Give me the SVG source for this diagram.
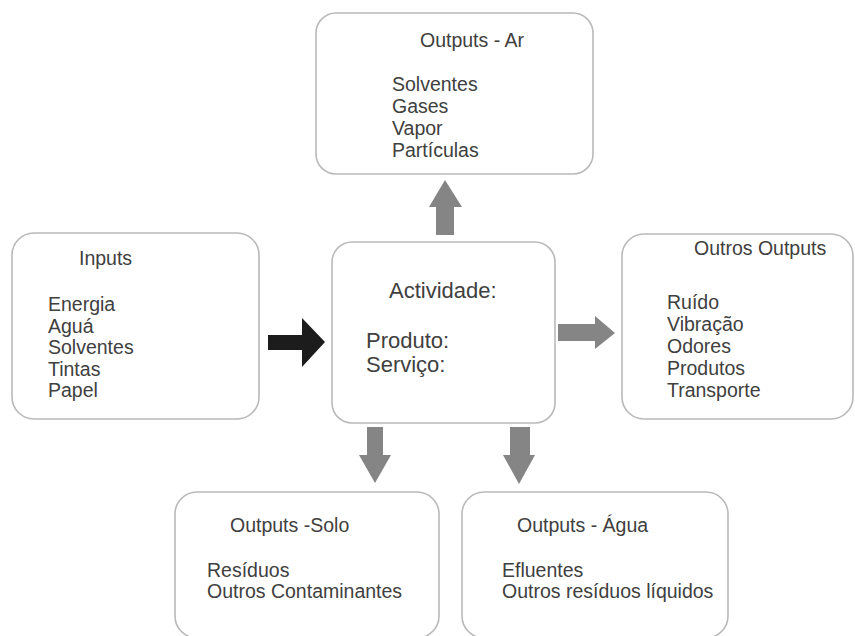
<svg xmlns="http://www.w3.org/2000/svg" width="855" height="636" viewBox="0 0 855 636">
  <style>
    .box { fill: #ffffff; stroke: #b9b9b9; stroke-width: 1.6; }
    .t { font-family: "Liberation Sans", Arial, sans-serif; font-size: 19.5px; fill: #404040; }
    .tc { font-family: "Liberation Sans", Arial, sans-serif; font-size: 22px; fill: #404040; }
    .gray { fill: #858585; }
    .dark { fill: #1c1c1c; }
  </style>
  <rect width="855" height="636" fill="#ffffff"/>

  <g id="outputs-ar">
    <rect class="box" x="316" y="13" width="277" height="161" rx="20"/>
    <text class="t" x="420" y="47">Outputs - Ar</text>
    <text class="t" x="392" y="91">Solventes</text>
    <text class="t" x="392" y="113">Gases</text>
    <text class="t" x="392" y="135">Vapor</text>
    <text class="t" x="392" y="157">Partículas</text>
  </g>

  <g id="inputs">
    <rect class="box" x="12" y="233" width="247" height="186" rx="22"/>
    <text class="t" x="79" y="265">Inputs</text>
    <text class="t" x="48" y="311">Energia</text>
    <text class="t" x="48" y="333">Aguá</text>
    <text class="t" x="48" y="354">Solventes</text>
    <text class="t" x="48" y="376">Tintas</text>
    <text class="t" x="48" y="397">Papel</text>
  </g>

  <g id="actividade">
    <rect class="box" x="332" y="242" width="223" height="181" rx="20"/>
    <text class="tc" x="389" y="298">Actividade:</text>
    <text class="tc" x="366" y="348">Produto:</text>
    <text class="tc" x="366" y="372">Serviço:</text>
  </g>

  <g id="outros-outputs">
    <rect class="box" x="622" y="234" width="231" height="185" rx="22"/>
    <text class="t" x="694" y="255">Outros Outputs</text>
    <text class="t" x="667" y="309">Ruído</text>
    <text class="t" x="667" y="331">Vibração</text>
    <text class="t" x="667" y="353">Odores</text>
    <text class="t" x="667" y="375">Produtos</text>
    <text class="t" x="667" y="397">Transporte</text>
  </g>

  <g id="outputs-solo">
    <rect class="box" x="175" y="492" width="264" height="146" rx="22"/>
    <text class="t" x="230" y="532">Outputs -Solo</text>
    <text class="t" x="207" y="577">Resíduos</text>
    <text class="t" x="207" y="598">Outros Contaminantes</text>
  </g>

  <g id="outputs-agua">
    <rect class="box" x="462" y="492" width="266" height="146" rx="22"/>
    <text class="t" x="517" y="532">Outputs - Água</text>
    <text class="t" x="502" y="577">Efluentes</text>
    <text class="t" x="502" y="598">Outros resíduos líquidos</text>
  </g>

  <g id="connectors">
    <!-- inputs into the activity -->
    <polygon class="dark" points="268,335 302,335 302,318 325,342 302,367 302,350 268,350"/>
    <!-- activity to air -->
    <polygon class="gray" points="436,235 436,207 429,207 445,180 462,207 454,207 454,235"/>
    <!-- activity to other outputs -->
    <polygon class="gray" points="558,324 595,324 595,316 615,333 595,349 595,341 558,341"/>
    <!-- activity to soil -->
    <polygon class="gray" points="367,427 383,427 383,455 391,455 375,483 359,455 367,455"/>
    <!-- activity to water -->
    <polygon class="gray" points="510,427 530,427 530,455 535,455 519,484 503,455 510,455"/>
  </g>
</svg>
